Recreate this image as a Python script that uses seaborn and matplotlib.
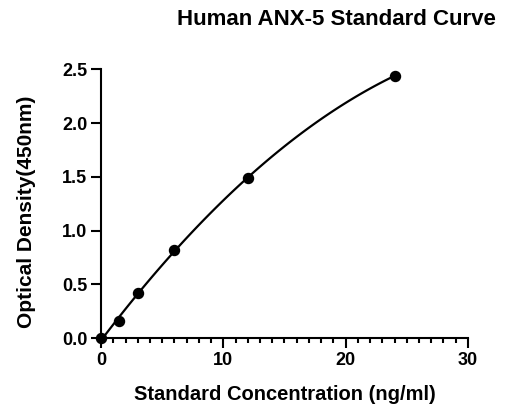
import numpy as np
import pandas as pd
import seaborn as sns
import matplotlib.pyplot as plt
from matplotlib.ticker import MultipleLocator

# Standard curve data
concentration = [0, 1.5, 3, 6, 12, 24]
optical_density = [0.0, 0.16, 0.42, 0.82, 1.49, 2.44]
x_ticks = [0, 10, 20, 30]
y_ticks = [0.0, 0.5, 1.0, 1.5, 2.0, 2.5]

df = pd.DataFrame({'conc': concentration, 'od': optical_density})

sns.set_style('ticks')
plt.rcParams['font.family'] = ['Liberation Sans', 'DejaVu Sans']
plt.rcParams['font.weight'] = 'bold'
plt.rcParams['text.color'] = 'black'
plt.rcParams['axes.labelcolor'] = 'black'
plt.rcParams['xtick.color'] = 'black'
plt.rcParams['ytick.color'] = 'black'

fig = plt.figure(figsize=(5.08, 4.07), dpi=100)
ax = fig.add_axes([0.199, 0.1695, 0.722, 0.66])

# fitted curve (quadratic) + points
sns.regplot(data=df, x='conc', y='od', order=2, ci=None, ax=ax,
            scatter=False, line_kws={'color': 'black', 'lw': 1.6})
ax.scatter(df['conc'], df['od'], s=52, color='black', zorder=3, clip_on=False)

ax.set_xlim(0, 30)
ax.set_ylim(0, 2.5)
ax.set_xticks(x_ticks)
ax.set_yticks(y_ticks)
ax.set_yticklabels([f'{v:.1f}' for v in y_ticks])
ax.xaxis.set_minor_locator(MultipleLocator(1))

for side in ['top', 'right']:
    ax.spines[side].set_visible(False)
for side in ['left', 'bottom']:
    ax.spines[side].set_linewidth(1.5)
    ax.spines[side].set_color('black')

ax.tick_params(axis='both', which='major', length=7, width=1.5, labelsize=13,
               color='black', labelcolor='black', pad=3)
ax.tick_params(axis='x', which='minor', length=3.5, width=1.5, color='black')
for lbl in ax.get_xticklabels() + ax.get_yticklabels():
    lbl.set_fontweight('bold')

ax.set_xlabel('Standard Concentration (ng/ml)', fontsize=14.5, fontweight='bold', va='center')
ax.set_ylabel('Optical Density(450nm)', fontsize=15, fontweight='bold', va='center')
ax.xaxis.set_label_coords(0.5, -0.212)
ax.yaxis.set_label_coords(-0.204, 0.469)
fig.text(0.662, 0.951, 'Human ANX-5 Standard Curve', fontsize=16, fontweight='bold',
         color='black', ha='center', va='center')

fig.savefig('out.png', dpi=100)
